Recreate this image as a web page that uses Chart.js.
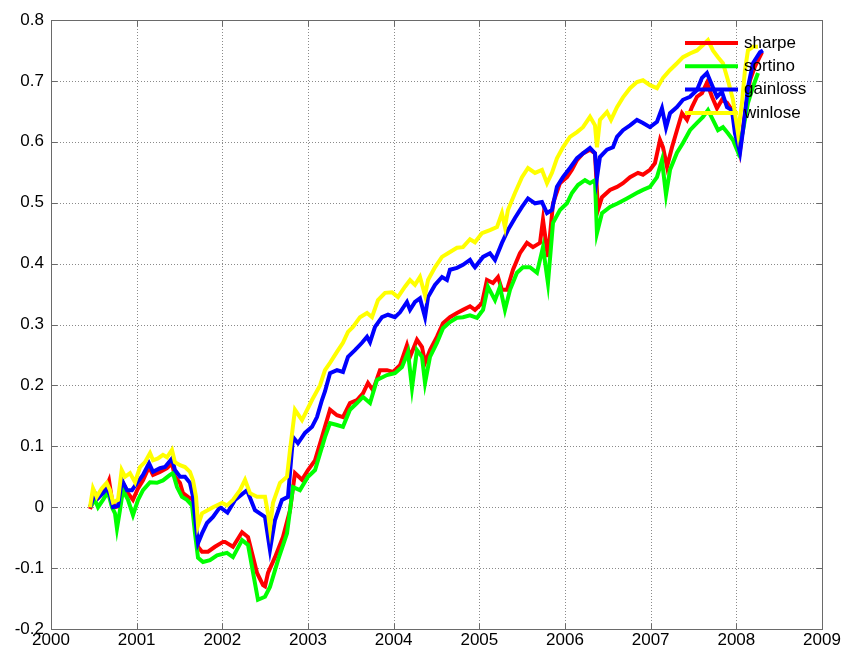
<!DOCTYPE html>
<html>
<head>
<meta charset="utf-8">
<script src="https://cdn.jsdelivr.net/npm/chart.js"></script>
<style>
html,body{margin:0;padding:0;background:#fff;}
#wrap{width:844px;height:653px;}
</style>
</head>
<body>
<div id="wrap"><canvas id="c" width="844" height="653"></canvas></div>
<script>
const seriesNames = ['sharpe', 'sortino', 'gainloss', 'winlose'];
const seriesColors = ['#ff0000', '#00ff00', '#0000ff', '#ffff00'];
const xTickYears = [2000, 2001, 2002, 2003, 2004, 2005, 2006, 2007, 2008, 2009];
const yTickValues = [-0.2, -0.1, 0, 0.1, 0.2, 0.3, 0.4, 0.5, 0.6, 0.7, 0.8];

const sharpeYears = [2000.455,2000.514,2000.549,2000.630,2000.677,2000.712,2000.747,2000.805,2000.840,2000.899,2000.957,2001.016,2001.074,2001.144,2001.191,2001.272,2001.354,2001.412,2001.447,2001.506,2001.541,2001.599,2001.658,2001.693,2001.716,2001.763,2001.833,2001.914,2002.008,2002.031,2002.124,2002.230,2002.300,2002.405,2002.475,2002.498,2002.533,2002.615,2002.708,2002.790,2002.848,2002.930,2003.000,2003.082,2003.163,2003.198,2003.257,2003.338,2003.408,2003.490,2003.572,2003.642,2003.700,2003.759,2003.840,2003.922,2003.992,2004.074,2004.155,2004.191,2004.272,2004.331,2004.366,2004.424,2004.506,2004.576,2004.657,2004.739,2004.809,2004.891,2004.949,2005.031,2005.089,2005.159,2005.218,2005.264,2005.323,2005.393,2005.474,2005.556,2005.626,2005.708,2005.743,2005.790,2005.801,2005.860,2005.941,2006.023,2006.081,2006.140,2006.210,2006.292,2006.350,2006.385,2006.432,2006.525,2006.607,2006.677,2006.759,2006.852,2006.910,2006.992,2007.050,2007.109,2007.144,2007.191,2007.249,2007.307,2007.366,2007.424,2007.482,2007.541,2007.599,2007.657,2007.716,2007.774,2007.832,2007.891,2007.949,2008.008,2008.043,2008.101,2008.159,2008.218,2008.299];
const sharpeValues = [-0.003,0.017,0.015,0.028,0.044,0.012,0.0,0.002,0.04,0.023,0.012,0.031,0.044,0.066,0.053,0.058,0.064,0.072,0.05,0.04,0.023,0.017,0.012,-0.043,-0.065,-0.073,-0.073,-0.065,-0.057,-0.057,-0.065,-0.041,-0.049,-0.108,-0.128,-0.13,-0.108,-0.082,-0.049,-0.005,0.056,0.045,0.061,0.077,0.115,0.132,0.16,0.151,0.148,0.171,0.176,0.187,0.204,0.192,0.225,0.225,0.222,0.233,0.266,0.247,0.275,0.263,0.237,0.258,0.28,0.302,0.312,0.319,0.324,0.33,0.324,0.335,0.373,0.368,0.378,0.357,0.357,0.39,0.417,0.434,0.427,0.434,0.472,0.422,0.411,0.499,0.532,0.542,0.554,0.57,0.581,0.587,0.581,0.488,0.509,0.521,0.526,0.532,0.542,0.549,0.546,0.554,0.565,0.603,0.591,0.559,0.591,0.619,0.647,0.636,0.657,0.674,0.68,0.697,0.674,0.655,0.669,0.664,0.652,0.619,0.587,0.647,0.701,0.724,0.747];

const sortinoYears = [2000.455,2000.514,2000.549,2000.607,2000.665,2000.712,2000.747,2000.770,2000.805,2000.840,2000.899,2000.957,2001.016,2001.074,2001.156,2001.237,2001.307,2001.389,2001.424,2001.471,2001.529,2001.587,2001.646,2001.681,2001.716,2001.774,2001.856,2001.938,2002.054,2002.124,2002.230,2002.300,2002.416,2002.498,2002.556,2002.650,2002.755,2002.825,2002.906,2003.000,2003.082,2003.198,2003.257,2003.338,2003.408,2003.490,2003.572,2003.642,2003.724,2003.805,2003.922,2004.015,2004.097,2004.167,2004.214,2004.272,2004.331,2004.366,2004.424,2004.506,2004.576,2004.657,2004.739,2004.809,2004.891,2004.973,2005.043,2005.101,2005.183,2005.241,2005.299,2005.358,2005.439,2005.509,2005.591,2005.673,2005.743,2005.801,2005.860,2005.941,2006.023,2006.081,2006.151,2006.233,2006.292,2006.350,2006.373,2006.432,2006.525,2006.618,2006.723,2006.852,2006.910,2006.992,2007.074,2007.132,2007.179,2007.226,2007.307,2007.377,2007.459,2007.541,2007.611,2007.669,2007.727,2007.786,2007.844,2007.902,2007.961,2008.019,2008.078,2008.136,2008.194,2008.253];
const sortinoValues = [0.0,0.012,0.0,0.012,0.025,0.0,-0.01,-0.035,-0.005,0.028,0.012,-0.013,0.012,0.028,0.041,0.04,0.044,0.053,0.056,0.033,0.017,0.012,0.003,-0.043,-0.083,-0.09,-0.087,-0.079,-0.075,-0.082,-0.054,-0.062,-0.152,-0.147,-0.131,-0.087,-0.043,0.033,0.028,0.05,0.061,0.115,0.138,0.135,0.132,0.16,0.171,0.181,0.171,0.209,0.217,0.22,0.23,0.255,0.196,0.258,0.247,0.204,0.247,0.27,0.294,0.304,0.311,0.312,0.315,0.311,0.324,0.362,0.34,0.362,0.324,0.357,0.385,0.394,0.394,0.385,0.427,0.368,0.467,0.488,0.499,0.516,0.529,0.537,0.532,0.537,0.45,0.483,0.493,0.499,0.507,0.517,0.521,0.526,0.542,0.57,0.513,0.554,0.582,0.598,0.619,0.631,0.641,0.652,0.636,0.619,0.624,0.614,0.603,0.583,0.619,0.664,0.69,0.713];

const gainlossYears = [2000.455,2000.514,2000.549,2000.607,2000.654,2000.689,2000.724,2000.782,2000.829,2000.887,2000.945,2001.004,2001.074,2001.144,2001.191,2001.272,2001.331,2001.412,2001.447,2001.506,2001.564,2001.622,2001.658,2001.693,2001.716,2001.763,2001.821,2001.891,2001.973,2002.060,2002.148,2002.288,2002.381,2002.498,2002.556,2002.615,2002.696,2002.766,2002.825,2002.883,2002.965,2003.047,2003.105,2003.163,2003.198,2003.257,2003.338,2003.408,2003.467,2003.548,2003.630,2003.689,2003.724,2003.782,2003.864,2003.934,2004.015,2004.074,2004.155,2004.191,2004.249,2004.307,2004.366,2004.401,2004.482,2004.564,2004.622,2004.657,2004.739,2004.809,2004.891,2004.926,2004.949,2005.043,2005.124,2005.183,2005.264,2005.334,2005.416,2005.498,2005.568,2005.650,2005.731,2005.790,2005.848,2005.906,2005.976,2006.058,2006.140,2006.210,2006.292,2006.350,2006.373,2006.408,2006.490,2006.560,2006.607,2006.677,2006.759,2006.840,2006.910,2006.992,2007.074,2007.132,2007.179,2007.226,2007.307,2007.377,2007.459,2007.541,2007.599,2007.657,2007.716,2007.774,2007.832,2007.891,2007.949,2007.984,2008.043,2008.078,2008.136,2008.194,2008.276,2008.311];
const gainlossValues = [0.0,0.023,0.015,0.023,0.031,0.02,0.0,0.002,0.044,0.028,0.028,0.04,0.053,0.072,0.058,0.064,0.066,0.08,0.061,0.05,0.05,0.04,0.017,-0.032,-0.059,-0.043,-0.026,-0.016,0.0,-0.009,0.012,0.028,-0.005,-0.016,-0.07,-0.021,0.012,0.017,0.115,0.105,0.122,0.132,0.148,0.176,0.19,0.22,0.225,0.222,0.247,0.258,0.27,0.28,0.271,0.296,0.312,0.316,0.312,0.32,0.337,0.324,0.337,0.343,0.312,0.345,0.365,0.378,0.373,0.39,0.393,0.398,0.406,0.398,0.394,0.411,0.417,0.406,0.434,0.455,0.475,0.493,0.507,0.499,0.501,0.483,0.488,0.526,0.542,0.557,0.573,0.581,0.59,0.581,0.541,0.575,0.587,0.591,0.608,0.619,0.627,0.636,0.631,0.624,0.633,0.655,0.623,0.647,0.657,0.669,0.674,0.685,0.705,0.713,0.693,0.674,0.682,0.657,0.652,0.614,0.582,0.619,0.69,0.729,0.747,0.75];

const winloseYears = [2000.455,2000.490,2000.533,2000.592,2000.650,2000.689,2000.724,2000.782,2000.825,2000.864,2000.922,2000.981,2001.039,2001.097,2001.156,2001.191,2001.249,2001.307,2001.354,2001.412,2001.447,2001.506,2001.564,2001.622,2001.658,2001.693,2001.716,2001.763,2001.891,2001.996,2002.054,2002.124,2002.206,2002.265,2002.323,2002.405,2002.498,2002.533,2002.556,2002.591,2002.673,2002.755,2002.790,2002.848,2002.930,2003.047,2003.140,2003.198,2003.257,2003.338,2003.408,2003.467,2003.525,2003.607,2003.689,2003.747,2003.817,2003.899,2003.980,2004.050,2004.132,2004.191,2004.249,2004.307,2004.366,2004.401,2004.482,2004.564,2004.634,2004.739,2004.809,2004.891,2004.949,2005.031,2005.124,2005.206,2005.264,2005.299,2005.334,2005.416,2005.498,2005.568,2005.650,2005.731,2005.790,2005.848,2005.906,2005.976,2006.058,2006.140,2006.210,2006.292,2006.350,2006.373,2006.408,2006.490,2006.537,2006.607,2006.677,2006.759,2006.840,2006.910,2006.992,2007.074,2007.144,2007.226,2007.307,2007.377,2007.459,2007.541,2007.611,2007.669,2007.727,2007.786,2007.844,2007.902,2007.961,2008.019,2008.066,2008.101,2008.136,2008.194,2008.253];
const winloseValues = [0.0,0.031,0.017,0.031,0.04,0.028,0.008,0.012,0.061,0.05,0.056,0.041,0.066,0.074,0.089,0.077,0.08,0.086,0.082,0.094,0.074,0.069,0.066,0.058,0.044,0.017,-0.03,-0.01,0.0,0.007,0.003,0.012,0.028,0.045,0.023,0.017,0.017,-0.01,-0.035,0.007,0.04,0.05,0.094,0.16,0.143,0.176,0.2,0.225,0.237,0.255,0.27,0.288,0.296,0.312,0.319,0.312,0.34,0.352,0.353,0.345,0.362,0.373,0.365,0.378,0.348,0.373,0.394,0.411,0.417,0.426,0.427,0.44,0.435,0.45,0.455,0.46,0.483,0.46,0.488,0.516,0.542,0.557,0.549,0.554,0.532,0.549,0.573,0.591,0.608,0.616,0.624,0.641,0.627,0.591,0.636,0.649,0.636,0.657,0.673,0.688,0.698,0.701,0.693,0.688,0.705,0.718,0.729,0.739,0.745,0.75,0.759,0.767,0.75,0.739,0.729,0.701,0.669,0.614,0.664,0.718,0.75,0.756,0.756];

const allYears = [sharpeYears, sortinoYears, gainlossYears, winloseYears];
const allValues = [sharpeValues, sortinoValues, gainlossValues, winloseValues];

const FONT = '"Liberation Sans", Arial, sans-serif';
const LINE_W = 4;

const datasets = seriesNames.map((name, i) => ({
  label: name,
  data: allYears[i].map((x, k) => ({x: x, y: allValues[i][k]})),
  borderColor: seriesColors[i],
  backgroundColor: seriesColors[i],
  borderWidth: LINE_W,
  pointRadius: 0,
  tension: 0,
  fill: false,
  order: seriesNames.length - i
}));

const axesPlugin = {
  id: 'matlabAxes',
  beforeDatasetsDraw(chart) {
    const {ctx, chartArea: a, scales} = chart;
    ctx.save();
    ctx.strokeStyle = '#8a8a8a';
    ctx.lineWidth = 1;
    ctx.setLineDash([1, 2]);
    xTickYears.forEach(v => {
      const px = Math.round(scales.x.getPixelForValue(v)) + 0.5;
      if (px > a.left + 1 && px < a.right - 1) {
        ctx.beginPath(); ctx.moveTo(px, a.top); ctx.lineTo(px, a.bottom); ctx.stroke();
      }
    });
    yTickValues.forEach(v => {
      const py = Math.round(scales.y.getPixelForValue(v)) + 0.5;
      if (py > a.top + 1 && py < a.bottom - 1) {
        ctx.beginPath(); ctx.moveTo(a.left, py); ctx.lineTo(a.right, py); ctx.stroke();
      }
    });
    ctx.restore();
  },
  afterDatasetsDraw(chart) {
    const {ctx, chartArea: a, scales} = chart;
    ctx.save();
    ctx.strokeStyle = '#6a6a6a';
    ctx.lineWidth = 1;
    ctx.setLineDash([]);
    const L = Math.round(a.left) + 0.5, R = Math.round(a.right) + 0.5;
    const T = Math.round(a.top) + 0.5, B = Math.round(a.bottom) + 0.5;
    ctx.strokeRect(L, T, R - L, B - T);
    const tl = 6;
    ctx.beginPath();
    xTickYears.forEach(v => {
      const px = Math.round(scales.x.getPixelForValue(v)) + 0.5;
      ctx.moveTo(px, B); ctx.lineTo(px, B - tl);
      ctx.moveTo(px, T); ctx.lineTo(px, T + tl);
    });
    yTickValues.forEach(v => {
      const py = Math.round(scales.y.getPixelForValue(v)) + 0.5;
      ctx.moveTo(L, py); ctx.lineTo(L + tl, py);
      ctx.moveTo(R, py); ctx.lineTo(R - tl, py);
    });
    ctx.stroke();

    // legend (inside the axes, top right, no box)
    const lx0 = a.right - 137, lx1 = a.right - 84, tx = a.right - 78;
    const ly0 = a.top + 23, dy = 23.3;
    ctx.font = '17px ' + FONT;
    ctx.textBaseline = 'middle';
    ctx.textAlign = 'left';
    seriesNames.forEach((name, i) => {
      const y = ly0 + i * dy;
      ctx.strokeStyle = seriesColors[i];
      ctx.lineWidth = LINE_W;
      ctx.beginPath(); ctx.moveTo(lx0, y); ctx.lineTo(lx1, y); ctx.stroke();
      ctx.fillStyle = '#000';
      ctx.fillText(name, tx, y);
    });
    ctx.restore();
  }
};

new Chart(document.getElementById('c'), {
  type: 'line',
  data: {datasets},
  options: {
    responsive: false,
    animation: false,
    devicePixelRatio: 1,
    parsing: true,
    layout: {padding: {left: 0, right: 22, top: 20, bottom: 0}},
    plugins: {legend: {display: false}, tooltip: {enabled: false}},
    scales: {
      x: {
        type: 'linear',
        min: 2000, max: 2009,
        afterBuildTicks(scale) { scale.ticks = xTickYears.map(v => ({value: v})); },
        afterFit(scale) { scale.height = 24; },
        grid: {display: false, drawTicks: false},
        border: {display: false},
        ticks: {
          padding: 1,
          color: '#000',
          font: {family: FONT, size: 17},
          maxRotation: 0,
          autoSkip: false,
          callback: v => String(v)
        }
      },
      y: {
        type: 'linear',
        min: -0.2, max: 0.8,
        afterBuildTicks(scale) { scale.ticks = yTickValues.map(v => ({value: v})); },
        afterFit(scale) { scale.width = 51; },
        grid: {display: false, drawTicks: false},
        border: {display: false},
        ticks: {
          padding: 7,
          color: '#000',
          font: {family: FONT, size: 17},
          autoSkip: false,
          callback: v => String(Math.round(v * 10) / 10)
        }
      }
    }
  },
  plugins: [axesPlugin]
});
</script>
</body>
</html>
